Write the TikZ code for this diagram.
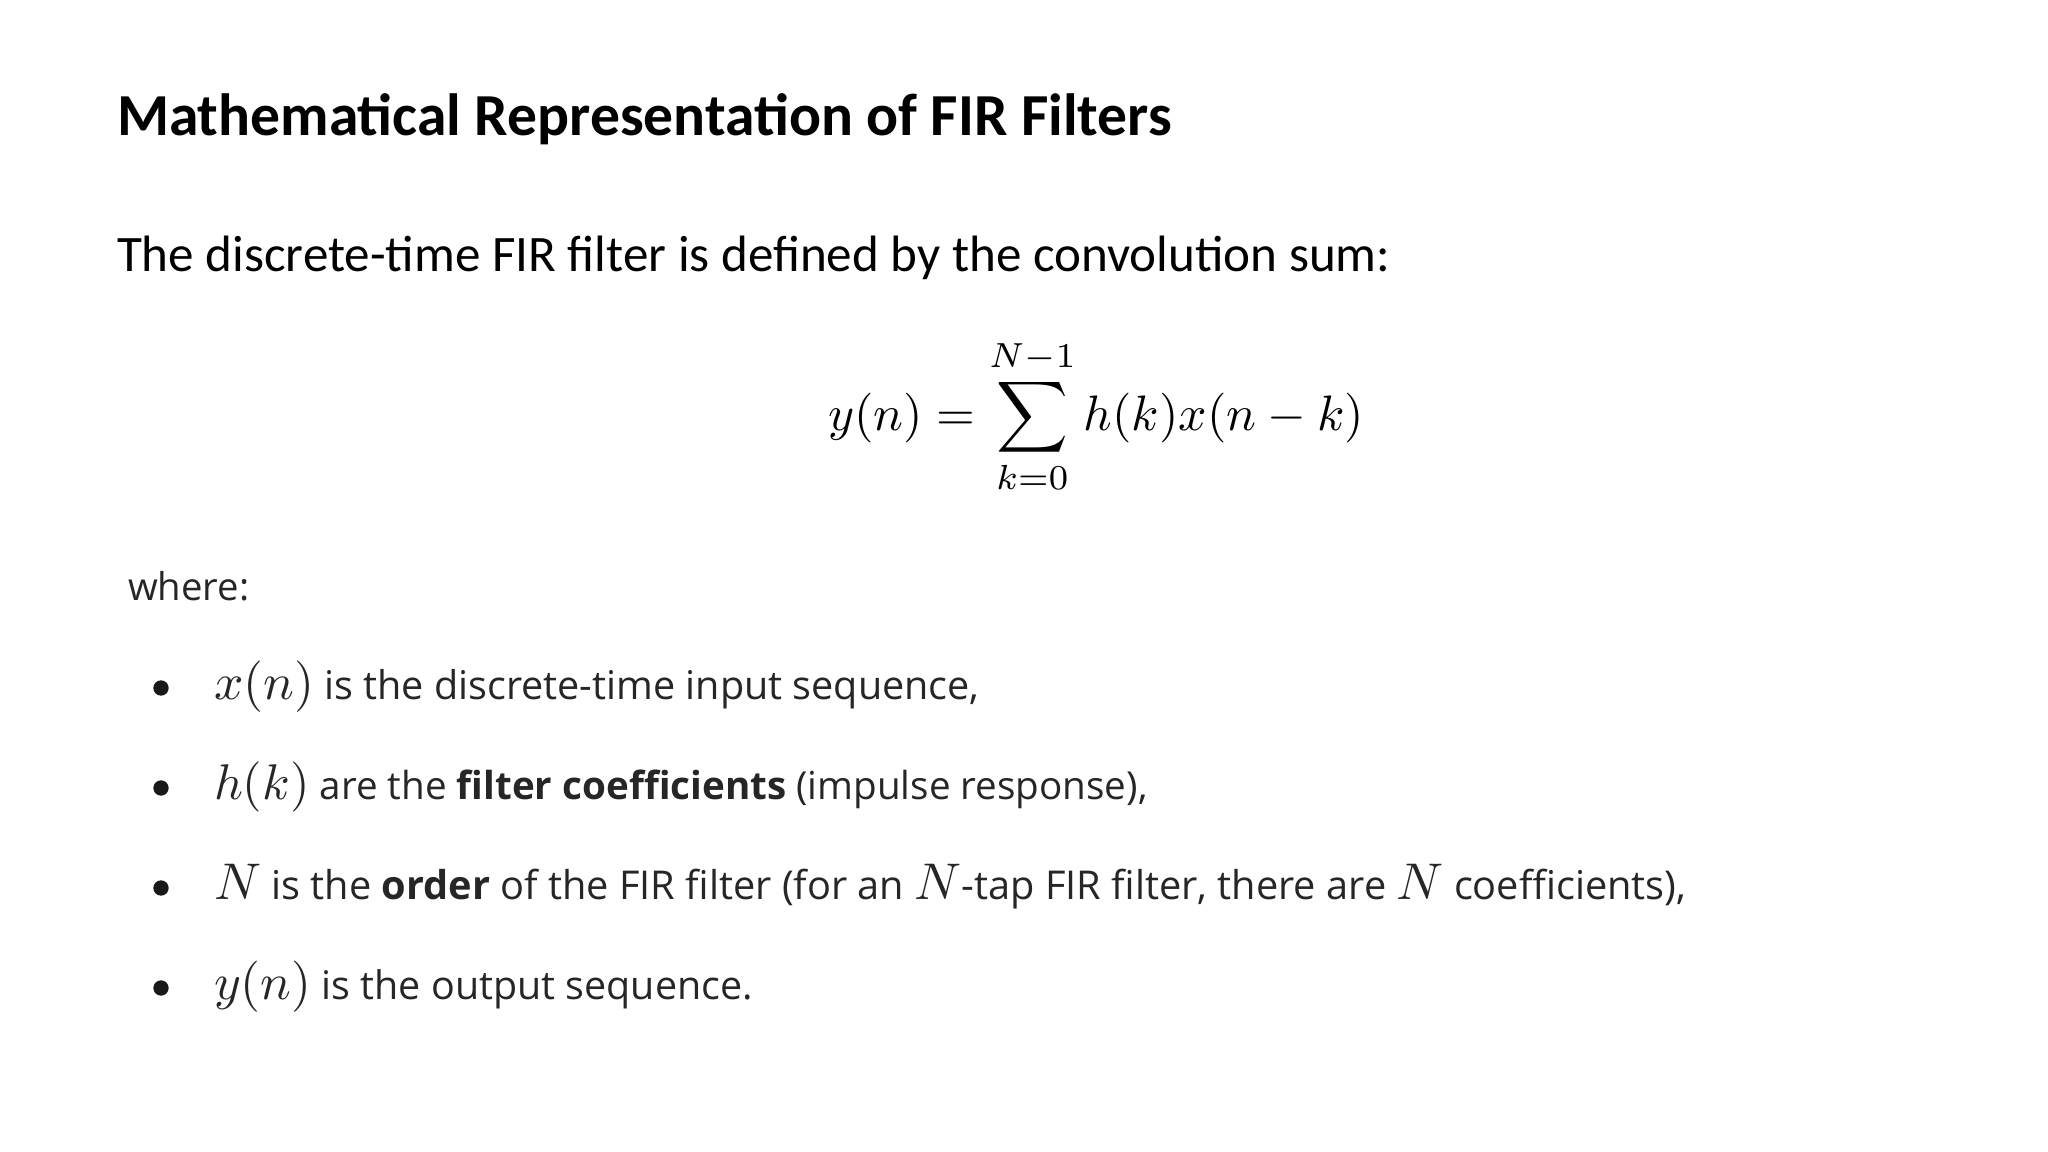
\documentclass[tikz,border=0pt]{standalone}
\usepackage{amsmath}
\usepackage{graphicx}
\usepackage{fontspec}
\setmainfont{Carlito}
\newfontfamily\shotfont{Open Sans}
\newcommand{\bm}[1]{\scalebox{1.3}{$#1$}}
\begin{document}
\begin{tikzpicture}[x=0.75pt,y=-0.75pt,
  txt/.style={anchor=base west,inner sep=0pt,outer sep=0pt},
  dotb/.style={circle,fill=black!90,inner sep=0pt,minimum size=11.5}]
\useasboundingbox[fill=white] (0,0) rectangle (2048,1152);
\node[txt] (title) at (117,136) {\resizebox{791pt}{!}{\bfseries Mathematical Representation of FIR Filters}};
\node[txt] (sub) at (117,271) {\resizebox{955pt}{!}{The discrete-time FIR filter is defined by the convolution sum:}};
\node[txt] (eq) at (828,430) {\resizebox{402pt}{!}{$\displaystyle y(n)=\sum_{k=0}^{N-1}h(k)x(n-k)$}};
\node[txt,text=black!85] (where) at (128,600) {\resizebox{91pt}{!}{\shotfont where:}};
\foreach \i/\yb in {1/699,2/799,3/899,4/999}{
  \node[dotb] (b\i) at (161,\yb-11) {};
}
\node[txt,text=black!85] (l1) at (214,699) {\resizebox{574pt}{!}{\shotfont \bm{x(n)} is the discrete-time input sequence,}};
\node[txt,text=black!85] (l2) at (214,799) {\resizebox{700pt}{!}{\shotfont \bm{h(k)} are the \textbf{filter coefficients} (impulse response),}};
\node[txt,text=black!85] (l3) at (214,899) {\resizebox{1104pt}{!}{\shotfont \bm{N} is the \textbf{order} of the FIR filter (for an \bm{N}-tap FIR filter, there are \bm{N} coefficients),}};
\node[txt,text=black!85] (l4) at (214,999) {\resizebox{404pt}{!}{\shotfont \bm{y(n)} is the output sequence.}};
\end{tikzpicture}
\end{document}
